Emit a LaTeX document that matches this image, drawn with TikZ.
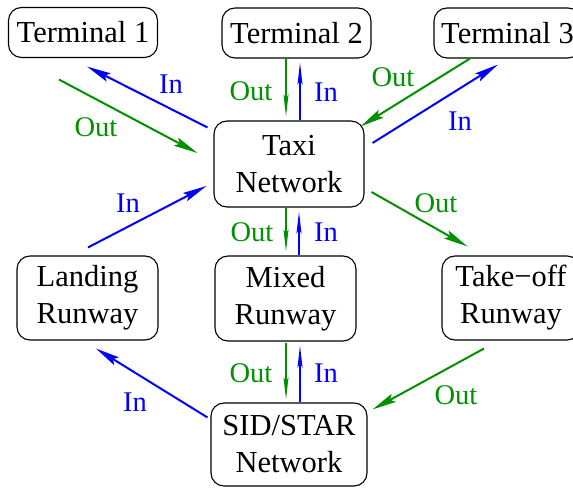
\documentclass[tikz,border=0pt]{standalone}
\usepackage{fontspec}
\setmainfont{Liberation Serif}
\usetikzlibrary{arrows.meta,calc}
\definecolor{figgreen}{RGB}{0,144,0}
\definecolor{figblue}{RGB}{0,0,255}
\tikzset{
  box/.style={draw=black, line width=1.1pt, rounded corners=13pt, inner sep=0pt,
    align=center, font=\fontsize{30.5}{37}\selectfont},
  lbl/.style={inner sep=0pt, font=\fontsize{28.5}{32}\selectfont},
  inlbl/.style={lbl, text=figblue},
  outlbl/.style={lbl, text=figgreen},
  inarrow/.style={draw=figblue, line width=2pt,
    -{Stealth[length=24pt,width=9pt,inset=4pt]}},
  outarrow/.style={draw=figgreen, line width=2pt,
    -{Stealth[length=24pt,width=9pt,inset=4pt]}},
  inup/.style={draw=figblue, line width=2pt,
    -{Stealth[length=22pt,width=5pt,inset=4pt]}},
  outdown/.style={draw=figgreen, line width=2pt,
    -{Stealth[length=22pt,width=5pt,inset=4pt]}},
}
\begin{document}
\begin{tikzpicture}[x=1pt,y=-1pt]
\useasboundingbox (0,0) rectangle (573,489);

% boxes
\node[box, minimum width=149pt, minimum height=50pt] (t1) at (83,32.5) {Terminal 1};
\node[box, minimum width=149pt, minimum height=50pt] (t2) at (296.5,33) {Terminal 2};
\node[box, minimum width=147pt, minimum height=50pt] (t3) at (507.5,33) {Terminal 3};
\node[box, minimum width=150pt, minimum height=86pt] (taxi) at (289,164) {Taxi\\Network};
\node[box, minimum width=141pt, minimum height=84pt] (land) at (87.5,298) {Landing\\Runway};
\node[box, minimum width=141pt, minimum height=85pt] (mixed) at (285.5,298.5) {Mixed\\Runway};
\node[box, minimum width=138pt, minimum height=84pt] (takeoff) at (511,298) {Take\char"2212 off\\Runway};
\node[box, minimum width=156pt, minimum height=83pt] (sid) at (289,444.5) {SID/STAR\\Network};

% terminals <-> taxi network
\draw[inarrow]  ($(taxi.north west)+(-6,7)$) -- ($(t1.south)+(4,8.5)$);
\draw[outarrow] ($(t1.south)+(-24,21.5)$) -- ($(taxi.west)+(-16,-11)$);
\draw[outdown]  ($(t2.south)+(-10.5,0)$) -- ($(taxi.north)+(-3,-4)$);
\draw[inup]     ($(taxi.north)+(11,0)$) -- ($(t2.south)+(3.5,4)$);
\draw[outarrow] ($(t3.south)+(-37.5,0)$) -- ($(taxi.north east)+(-4,6)$);
\draw[inarrow]  ($(taxi.east)+(8,-21)$) -- ($(t3.south)+(-9.5,6)$);

% taxi network <-> runways
\draw[outarrow] ($(taxi.east)+(7,28)$) -- ($(takeoff.north west)+(26,-9)$);
\draw[inarrow]  ($(land.north)+(0.5,-8)$) -- ($(taxi.west)+(-7,22)$);
\draw[outdown]  ($(taxi.south)+(-3,0)$) -- ($(mixed.north)+(0.5,-4)$);
\draw[inup]     ($(mixed.north)+(13.5,0)$) -- ($(taxi.south)+(10,4)$);

% runways <-> SID/STAR network
\draw[outdown]  ($(mixed.south)+(0.5,1)$) -- ($(sid.north)+(-3,-3)$);
\draw[inup]     ($(sid.north)+(11,0)$) -- ($(mixed.south)+(14.5,4)$);
\draw[inarrow]  ($(sid.north west)+(-3,15)$) -- ($(land.south)+(8.5,8)$);
\draw[outarrow] ($(takeoff.south)+(-27,8)$) -- ($(sid.north east)+(5,7)$);

% flow labels
\node[inlbl]  (l1) at (171,84)  {In};
\node[outlbl] (l2) at (96,127)  {Out};
\node[outlbl] (l3) at (251,91)  {Out};
\node[inlbl]  (l4) at (326,92)  {In};
\node[outlbl] (l5) at (393,77)  {Out};
\node[inlbl]  (l6) at (460,121) {In};
\node[outlbl] (l7) at (436,203) {Out};
\node[inlbl]  (l8) at (128,203) {In};
\node[outlbl] (l9) at (252,232) {Out};
\node[inlbl]  (l10) at (326,232) {In};
\node[outlbl] (l11) at (251,373) {Out};
\node[inlbl]  (l12) at (326,373) {In};
\node[inlbl]  (l13) at (135,402) {In};
\node[outlbl] (l14) at (456,395) {Out};
\end{tikzpicture}
\end{document}
